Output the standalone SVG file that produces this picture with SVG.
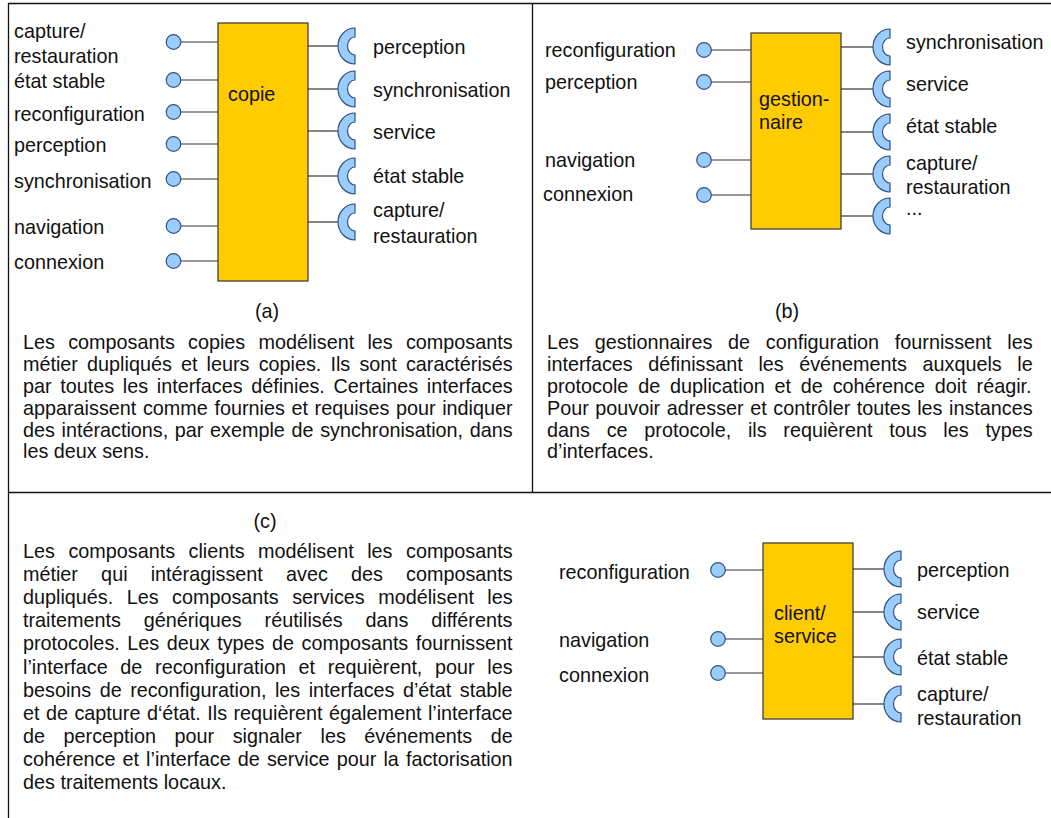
<svg xmlns="http://www.w3.org/2000/svg" xmlns:xlink="http://www.w3.org/1999/xlink" width="1051" height="818" viewBox="0 0 1051 818">
  <style>
    text { font-family: "Liberation Sans", Arial, Helvetica, sans-serif; font-size: 19.8px; fill: #111; }
    .frame { stroke: #111; stroke-width: 1.3; fill: none; }
    .box { fill: #FFCC00; stroke: #333; stroke-width: 1.2; }
    .lolli { fill: #99CCFF; stroke: #34527A; stroke-width: 1.2; }
    .sock { fill: #99CCFF; stroke: #34527A; stroke-width: 1.2; }
    .wire { stroke: #333; stroke-width: 1.2; fill: none; }
  </style>
  <defs>
    <!-- required-interface socket: origin at the outer left point, opening to the right -->
    <path id="socket" class="sock" d="M17,-18 A17,18 0 0 0 17,18 L17,9 A7.5,9 0 0 1 17,-9 Z"/>
    <!-- provided-interface ball -->
    <circle id="ball" class="lolli" r="7.3"/>
  </defs>
  <rect width="1051" height="818" fill="#fff"/>

  <!-- panel frame -->
  <g id="frame">
    <line class="frame" x1="8" y1="3.5" x2="1051" y2="3.5"/>
    <line class="frame" x1="8.5" y1="3" x2="8.5" y2="818"/>
    <line class="frame" x1="532.5" y1="3" x2="532.5" y2="492.5"/>
    <line class="frame" x1="8" y1="492.5" x2="1051" y2="492.5"/>
  </g>

  <!-- connectors between components and their interfaces -->
  <g id="connectors">
    <!-- (a) copie -->
    <line class="wire" x1="180.5" y1="42" x2="218" y2="42"/>
    <line class="wire" x1="180.5" y1="80" x2="218" y2="80"/>
    <line class="wire" x1="180.5" y1="112" x2="218" y2="112"/>
    <line class="wire" x1="180.5" y1="144" x2="218" y2="144"/>
    <line class="wire" x1="180.5" y1="179" x2="218" y2="179"/>
    <line class="wire" x1="180.5" y1="226" x2="218" y2="226"/>
    <line class="wire" x1="180.5" y1="261" x2="218" y2="261"/>
    <line class="wire" x1="308" y1="46" x2="338" y2="46"/>
    <line class="wire" x1="308" y1="89" x2="338" y2="89"/>
    <line class="wire" x1="308" y1="131" x2="338" y2="131"/>
    <line class="wire" x1="308" y1="176" x2="338" y2="176"/>
    <line class="wire" x1="308" y1="222" x2="338" y2="222"/>
    <!-- (b) gestionnaire -->
    <line class="wire" x1="711" y1="50" x2="751" y2="50"/>
    <line class="wire" x1="711" y1="82" x2="751" y2="82"/>
    <line class="wire" x1="711" y1="160" x2="751" y2="160"/>
    <line class="wire" x1="711" y1="195" x2="751" y2="195"/>
    <line class="wire" x1="841" y1="47" x2="873" y2="47"/>
    <line class="wire" x1="841" y1="89" x2="873" y2="89"/>
    <line class="wire" x1="841" y1="132" x2="873" y2="132"/>
    <line class="wire" x1="841" y1="174" x2="873" y2="174"/>
    <line class="wire" x1="841" y1="216" x2="873" y2="216"/>
    <!-- (c) client/service -->
    <line class="wire" x1="725" y1="570" x2="763" y2="570"/>
    <line class="wire" x1="725" y1="639" x2="763" y2="639"/>
    <line class="wire" x1="725" y1="673" x2="763" y2="673"/>
    <line class="wire" x1="853" y1="569" x2="884" y2="569"/>
    <line class="wire" x1="853" y1="612" x2="884" y2="612"/>
    <line class="wire" x1="853" y1="657" x2="884" y2="657"/>
    <line class="wire" x1="853" y1="704" x2="884" y2="704"/>
  </g>

  <!-- ===== (a) copie ===== -->
  <g id="copie">
    <rect class="box" x="218" y="23" width="90" height="258"/>
    <text x="228" y="101">copie</text>
  </g>
  <g id="copie-provided">
    <use xlink:href="#ball" x="173.5" y="42"/>
    <use xlink:href="#ball" x="173.5" y="80"/>
    <use xlink:href="#ball" x="173.5" y="112"/>
    <use xlink:href="#ball" x="173.5" y="144"/>
    <use xlink:href="#ball" x="173.5" y="179"/>
    <use xlink:href="#ball" x="173.5" y="226"/>
    <use xlink:href="#ball" x="173.5" y="261"/>
    <text x="14" y="38">capture/</text>
    <text x="14" y="63">restauration</text>
    <text x="14" y="88">état stable</text>
    <text x="14" y="121">reconfiguration</text>
    <text x="14" y="152">perception</text>
    <text x="14" y="188">synchronisation</text>
    <text x="14" y="234">navigation</text>
    <text x="14" y="269">connexion</text>
  </g>
  <g id="copie-required">
    <use xlink:href="#socket" x="338" y="46"/>
    <use xlink:href="#socket" x="338" y="89"/>
    <use xlink:href="#socket" x="338" y="131"/>
    <use xlink:href="#socket" x="338" y="176"/>
    <use xlink:href="#socket" x="338" y="222"/>
    <text x="373" y="54">perception</text>
    <text x="373" y="97">synchronisation</text>
    <text x="373" y="139">service</text>
    <text x="373" y="183">état stable</text>
    <text x="373" y="217">capture/</text>
    <text x="373" y="243">restauration</text>
  </g>
  <g id="caption-a">
    <text x="267" y="318" text-anchor="middle">(a)</text>
    <text x="23" y="349" word-spacing="7.76">Les composants copies modélisent les composants</text>
    <text x="23" y="371" word-spacing="3.66">métier dupliqués et leurs copies. Ils sont caractérisés</text>
    <text x="23" y="393" word-spacing="3.17">par toutes les interfaces définies. Certaines interfaces</text>
    <text x="23" y="415" word-spacing="1.15">apparaissent comme fournies et requises pour indiquer</text>
    <text x="23" y="437" word-spacing="1.15">des intéractions, par exemple de synchronisation, dans</text>
    <text x="23" y="458">les deux sens.</text>
  </g>

  <!-- ===== (b) gestionnaire ===== -->
  <g id="gestionnaire">
    <rect class="box" x="751" y="33" width="90" height="196"/>
    <text x="759" y="106">gestion-</text>
    <text x="759" y="129">naire</text>
  </g>
  <g id="gestionnaire-provided">
    <use xlink:href="#ball" x="704" y="50"/>
    <use xlink:href="#ball" x="704" y="82"/>
    <use xlink:href="#ball" x="704" y="160"/>
    <use xlink:href="#ball" x="704" y="195"/>
    <text x="545" y="57">reconfiguration</text>
    <text x="545" y="89">perception</text>
    <text x="545" y="167">navigation</text>
    <text x="543" y="201">connexion</text>
  </g>
  <g id="gestionnaire-required">
    <use xlink:href="#socket" x="873" y="47"/>
    <use xlink:href="#socket" x="873" y="89"/>
    <use xlink:href="#socket" x="873" y="132"/>
    <use xlink:href="#socket" x="873" y="174"/>
    <use xlink:href="#socket" x="873" y="216"/>
    <text x="906" y="49">synchronisation</text>
    <text x="906" y="91">service</text>
    <text x="906" y="133">état stable</text>
    <text x="906" y="170">capture/</text>
    <text x="906" y="194">restauration</text>
    <text x="906" y="215">...</text>
  </g>
  <g id="caption-b">
    <text x="787" y="318" text-anchor="middle">(b)</text>
    <text x="547" y="349" word-spacing="10.26">Les gestionnaires de configuration fournissent les</text>
    <text x="547" y="371" word-spacing="10.04">interfaces définissant les événements auxquels le</text>
    <text x="547" y="393" word-spacing="4.34">protocole de duplication et de cohérence doit réagir.</text>
    <text x="547" y="415" word-spacing="1.04">Pour pouvoir adresser et contrôler toutes les instances</text>
    <text x="547" y="437" word-spacing="11.26">dans ce protocole, ils requièrent tous les types</text>
    <text x="547" y="458">d’interfaces.</text>
  </g>

  <!-- ===== (c) client/service ===== -->
  <g id="client-service">
    <rect class="box" x="763" y="543" width="90" height="176"/>
    <text x="774" y="620">client/</text>
    <text x="774" y="643">service</text>
  </g>
  <g id="client-service-provided">
    <use xlink:href="#ball" x="718" y="570"/>
    <use xlink:href="#ball" x="718" y="639"/>
    <use xlink:href="#ball" x="718" y="673"/>
    <text x="559" y="579">reconfiguration</text>
    <text x="559" y="647">navigation</text>
    <text x="559" y="682">connexion</text>
  </g>
  <g id="client-service-required">
    <use xlink:href="#socket" x="884" y="569"/>
    <use xlink:href="#socket" x="884" y="612"/>
    <use xlink:href="#socket" x="884" y="657"/>
    <use xlink:href="#socket" x="884" y="704"/>
    <text x="917" y="577">perception</text>
    <text x="917" y="619">service</text>
    <text x="917" y="665">état stable</text>
    <text x="917" y="701">capture/</text>
    <text x="917" y="725">restauration</text>
  </g>
  <g id="caption-c">
    <text x="265" y="528" text-anchor="middle">(c)</text>
    <text x="23" y="558" word-spacing="7.99">Les composants clients modélisent les composants</text>
    <text x="23" y="581.1" word-spacing="17.67">métier qui intéragissent avec des composants</text>
    <text x="23" y="604.2" word-spacing="7.99">dupliqués. Les composants services modélisent les</text>
    <text x="23" y="627.3" word-spacing="17.41">traitements génériques réutilisés dans différents</text>
    <text x="23" y="650.4" word-spacing="2.06">protocoles. Les deux types de composants fournissent</text>
    <text x="23" y="673.5" word-spacing="7.20">l’interface de reconfiguration et requièrent, pour les</text>
    <text x="23" y="696.6" word-spacing="2.98">besoins de reconfiguration, les interfaces d’état stable</text>
    <text x="23" y="719.7" word-spacing="0.98">et de capture d‘état. Ils requièrent également l’interface</text>
    <text x="23" y="742.8" word-spacing="13.07">de perception pour signaler les événements de</text>
    <text x="23" y="765.9" word-spacing="1.61">cohérence et l’interface de service pour la factorisation</text>
    <text x="23" y="789">des traitements locaux.</text>
  </g>
</svg>
